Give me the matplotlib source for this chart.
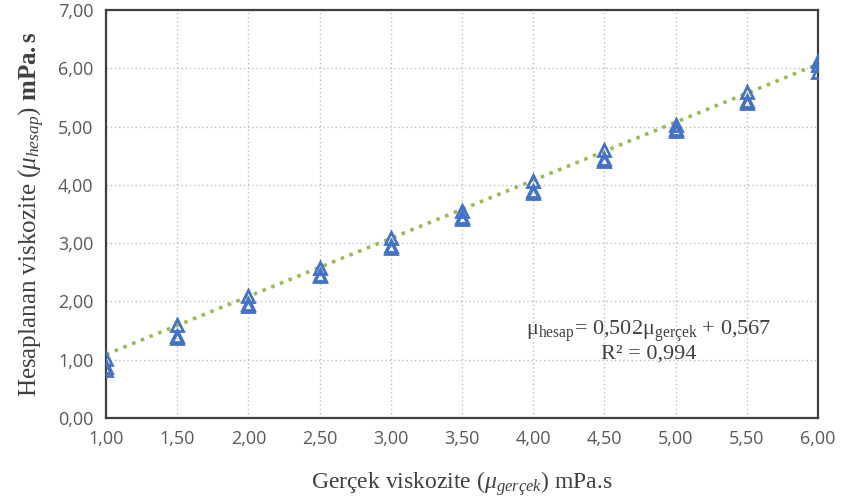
import numpy as np
import matplotlib.pyplot as plt
from matplotlib.ticker import FuncFormatter

plt.rcParams['mathtext.fontset'] = 'custom'
plt.rcParams['mathtext.rm'] = 'Liberation Serif'
plt.rcParams['mathtext.it'] = 'Liberation Serif:italic'
plt.rcParams['mathtext.bf'] = 'Liberation Serif:bold'

# gercek viskozite (x) and hesaplanan viskozite (y)
x_gercek = [1.0, 1.0, 1.0, 1.5, 1.5, 1.5, 2.0, 2.0, 2.0, 2.5, 2.5, 2.5,
            3.0, 3.0, 3.0, 3.5, 3.5, 3.5, 4.0, 4.0, 4.0, 4.5, 4.5, 4.5,
            5.0, 5.0, 5.0, 5.5, 5.5, 5.5, 6.0, 6.0, 6.0]
y_hesap = [1.02, 0.87, 0.82, 1.60, 1.41, 1.38, 2.10, 1.95, 1.92, 2.58, 2.46, 2.43,
           3.08, 2.95, 2.91, 3.55, 3.45, 3.42, 4.07, 3.90, 3.86, 4.60, 4.44, 4.41,
           5.02, 4.96, 4.92, 5.60, 5.44, 5.40, 6.12, 6.05, 5.93]
trend_x = [1.0, 6.0]
trend_y = [1.09, 6.07]

xticks = [1.0, 1.5, 2.0, 2.5, 3.0, 3.5, 4.0, 4.5, 5.0, 5.5, 6.0]
yticks = [0, 1, 2, 3, 4, 5, 6, 7]

fig = plt.figure(figsize=(8.42, 5.01), dpi=100)
ax = fig.add_axes([106/842, 1 - 418/501, 712/842, 408/501])

ax.plot(trend_x, trend_y, linestyle=(0, (1, 1.6)), color='#9BBB59', lw=2.6, zorder=2)
ax.plot(x_gercek, y_hesap, linestyle='none', marker='^', markersize=9,
        markerfacecolor='none', markeredgecolor='#4472C4', markeredgewidth=2, zorder=3)

ax.set_xlim(1, 6)
ax.set_ylim(0, 7)
ax.set_xticks(xticks)
ax.set_yticks(yticks)
comma = FuncFormatter(lambda v, p: f"{v:.2f}".replace('.', ','))
ax.xaxis.set_major_formatter(comma)
ax.yaxis.set_major_formatter(comma)
ax.tick_params(length=0, labelsize=13, labelcolor='#595959', pad=9)
for lab in ax.get_xticklabels() + ax.get_yticklabels():
    lab.set_fontfamily('Open Sans')

ax.grid(True, linestyle=(0, (1, 2)), color='#BFBFBF', lw=1)
ax.set_axisbelow(True)
for s in ax.spines.values():
    s.set_color('#404040')
    s.set_linewidth(1.6)

ax.set_xlabel(r"Gerçek viskozite ($\mathit{\mu_{gerçek}}$) mPa.s",
              fontfamily='Liberation Serif', fontsize=17, color='#404040', labelpad=15)
ax.set_ylabel(r"Hesaplanan viskozite ($\mathit{\mu_{hesap}}$) $\mathbf{mPa.s}$",
              fontfamily='Liberation Serif', fontsize=18, color='#404040', labelpad=8)

ax.text(4.81, 1.48, r"$\mathrm{μ_{hesap}}$= 0,502$\mathrm{μ_{gerçek}}$ + 0,567",
        fontfamily='Liberation Serif', fontsize=16, color='#404040', ha='center', va='center')
ax.text(4.81, 1.10, "R² = 0,994",
        fontfamily='Liberation Serif', fontsize=16, color='#404040', ha='center', va='center')

fig.savefig('out.png', dpi=100)
